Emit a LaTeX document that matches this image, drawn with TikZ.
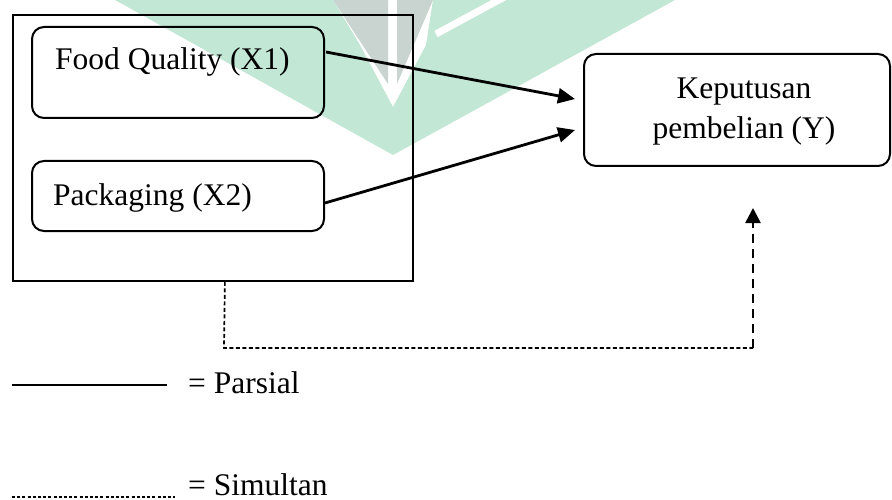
\documentclass[tikz,border=0pt]{standalone}
\usepackage{fontspec}
\setmainfont{Liberation Serif}
\usetikzlibrary{arrows.meta,calc}
\definecolor{wmgreen}{HTML}{C3E7D5}
\definecolor{wmgray}{HTML}{C9D4D0}
\tikzset{
  rbox/.style={draw, line width=2pt, rounded corners=12pt, inner sep=0pt},
  frame/.style={draw, line width=1.8pt, inner sep=0pt},
  txt/.style={inner sep=0pt, font=\fontsize{31.5}{40}\selectfont},
  parsialline/.style={line width=2.8pt, -{Triangle[length=17pt,width=15pt]}},
  simline/.style={line width=1.7pt, dash pattern=on 4pt off 2.5pt},
  simarrow/.style={line width=2.6pt, dash pattern=on 9pt off 6pt, -{Triangle[length=15pt,width=15pt]}},
}
\begin{document}
\begin{tikzpicture}[x=1pt,y=-1pt]
\useasboundingbox (0,0) rectangle (892,500);
% watermark
\fill[wmgreen] (115,0) -- (333,0) -- (360,45) -- (393,107) -- (426,45) -- (433,0) -- (675,0) -- (393,155) -- cycle;
\draw[white, line width=7pt] (436,34) -- (510,-6);
\fill[wmgray] (333,0) -- (388,0) -- (388,84) -- cycle;
\fill[wmgray] (397,0) -- (433,0) -- (397,84) -- cycle;
% frame and boxes
\node[frame, minimum width=400pt, minimum height=266pt, anchor=north west] (outer) at (12,14) {};
\node[rbox, minimum width=292pt, minimum height=91pt, anchor=north west] (fq) at (31,26) {};
\node[txt, anchor=base west] (fqt) at (55,70) {Food Quality (X1)};
\node[rbox, minimum width=292pt, minimum height=70pt, anchor=north west] (pk) at (31,160) {};
\node[txt, anchor=base west] (pkt) at (53,205) {Packaging (X2)};
\node[rbox, minimum width=306pt, minimum height=112pt, anchor=north west] (ky) at (583,53) {};
\node[txt, align=center] (kyt) at (744,112) {Keputusan\\pembelian (Y)};
% partial arrows
\draw[parsialline] ($(fq.north east)+(1,26)$) -- ($(ky.west)+(-8,-11)$);
\draw[parsialline] ($(pk.east)+(0,7)$) -- ($(ky.west)+(-8,20)$);
% simultaneous path
\coordinate (s0) at ($(outer.south)+(12,0)$);
\coordinate (s1) at (224,348);
\coordinate (s2) at (753,348);
\coordinate (s3) at (753,208);
\draw[simline] (s0) -- (s1) -- (s2);
\draw[simarrow] (s2) -- (s3);
% legend
\coordinate (la) at (12,385);
\coordinate (lb) at (167,385);
\draw[line width=2.2pt] (la) -- (lb);
\node[txt, anchor=base west] (lpt) at (188,393) {= Parsial};
\coordinate (lc) at (12,497);
\coordinate (ld) at (175,497);
\draw[line width=2.2pt, dash pattern=on 3pt off 2.2pt] (lc) -- (ld);
\node[txt, anchor=base west] (lst) at (188,495) {= Simultan};
\end{tikzpicture}
\end{document}
